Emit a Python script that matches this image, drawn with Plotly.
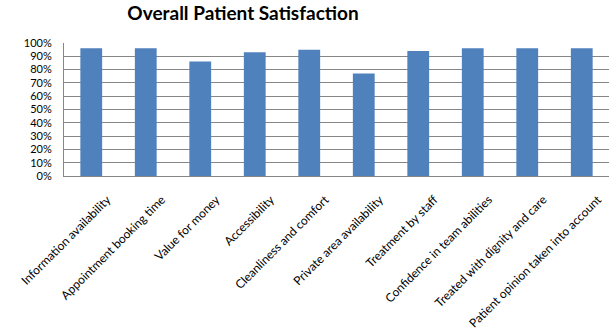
import plotly.graph_objects as go

categories = [
    "Information availability",
    "Appointment booking time",
    "Value for money",
    "Accessibility",
    "Cleanliness and comfort",
    "Private area availability",
    "Treatment by staff",
    "Confidence in team abilities",
    "Treated with dignity and care",
    "Patient opinion taken into account",
]
satisfaction = [0.96, 0.96, 0.86, 0.93, 0.95, 0.77, 0.94, 0.96, 0.96, 0.96]
y_ticks = [i / 10 for i in range(11)]
y_tick_labels = [f"{i * 10}%" for i in range(11)]

fig = go.Figure(
    go.Bar(
        x=categories,
        y=satisfaction,
        marker=dict(color="#4F81BD", line=dict(width=0)),
        hoverinfo="x+y",
    )
)

fig.update_layout(
    width=614,
    height=330,
    margin=dict(l=64, r=5, t=43, b=154),
    paper_bgcolor="white",
    plot_bgcolor="white",
    bargap=0.6,
    showlegend=False,
    font=dict(family="Lato, Carlito, sans-serif", color="black"),
    title=dict(
        text="<b>Overall Patient Satisfaction</b>",
        x=243 / 614,
        xanchor="center",
        y=1 - 13 / 330,
        yanchor="middle",
        font=dict(size=19, family="Lato, sans-serif", color="black"),
    ),
)

fig.update_yaxes(
    range=[0, 1],
    tickvals=y_ticks,
    ticktext=y_tick_labels,
    showgrid=True,
    gridcolor="#868686",
    gridwidth=1,
    showline=True,
    linecolor="#868686",
    linewidth=1,
    ticks="",
    ticklabelstandoff=9,
    tickfont=dict(size=11),
    zeroline=False,
    automargin=False,
    fixedrange=True,
)

fig.update_xaxes(
    tickangle=-45,
    tickfont=dict(size=12),
    ticklabelstandoff=11,
    ticklabelshift=16,
    showline=True,
    linecolor="#868686",
    linewidth=1,
    ticks="",
    showgrid=False,
    automargin=False,
    fixedrange=True,
)

fig.write_html("out.html")
